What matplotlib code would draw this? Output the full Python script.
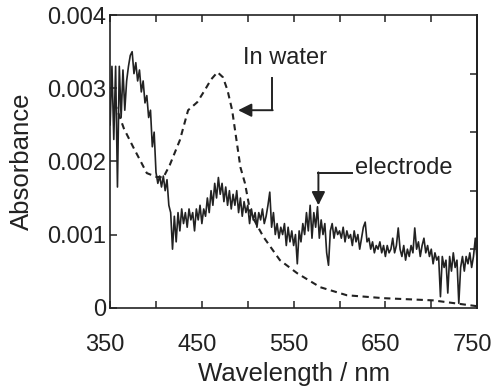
import matplotlib
matplotlib.use("Agg")
import matplotlib.pyplot as plt
import matplotlib.transforms as mtransforms
import numpy as np

plt.rcParams["font.family"] = ["Liberation Sans", "DejaVu Sans"]

# Electrode spectrum, 2 nm steps from 350 to 750 nm (absorbance x 1e-3).
wl_electrode = np.arange(350, 751, 2)
abs_electrode = [
    2.5, 3.3, 2.3, 3.3, 1.65, 3.3, 2.6, 3.25, 2.7, 3.1,        # 350-368
    3.3, 3.45, 3.5, 3.2, 3.35, 3.1, 3.25, 2.95, 3.1, 2.8,      # 370-388
    2.9, 2.6, 2.7, 2.2, 2.4, 1.85, 1.7, 1.8, 1.65, 1.8,        # 390-408
    1.6, 1.75, 1.4, 1.3, 0.8, 1.25, 0.9, 1.3, 1.05, 1.35,      # 410-428
    1.15, 1.3, 1.1, 1.35, 1.2, 1.3, 1.05, 1.35, 1.2, 1.4,      # 430-448
    1.15, 1.35, 1.25, 1.5, 1.3, 1.6, 1.4, 1.7, 1.5, 1.78,      # 450-468
    1.55, 1.7, 1.45, 1.65, 1.4, 1.6, 1.35, 1.55, 1.4, 1.6,     # 470-488
    1.3, 1.5, 1.25, 1.45, 1.3, 1.4, 1.15, 1.35, 1.2, 1.3,      # 490-508
    1.1, 1.3, 1.2, 1.35, 1.15, 1.25, 1.4, 1.58, 1.1, 1.3,      # 510-528
    1.0, 1.15, 0.95, 1.1, 1.0, 1.15, 0.85, 1.1, 0.9, 1.05,     # 530-548
    0.85, 1.0, 0.6, 1.05, 0.9, 1.15, 1.0, 1.3, 1.05, 1.4,      # 550-568
    0.95, 1.3, 1.1, 1.38, 0.95, 1.2, 1.0, 1.15, 0.75, 0.58,    # 570-588
    1.05, 1.15, 0.95, 1.1, 1.0, 1.05, 0.95, 1.1, 0.9, 1.05,    # 590-608
    0.95, 1.0, 0.85, 1.05, 0.9, 1.0, 0.8, 0.95, 1.1, 1.17,     # 610-628
    0.9, 0.95, 0.8, 0.9, 0.75, 0.85, 0.8, 0.9, 0.75, 0.85,     # 630-648
    0.7, 0.85, 0.75, 0.8, 0.95, 0.75, 0.85, 1.09, 0.8, 0.7,    # 650-668
    0.85, 0.65, 0.8, 0.7, 0.85, 0.75, 1.09, 0.8, 0.9, 0.7,     # 670-688
    0.85, 0.95, 0.75, 0.85, 0.7, 0.8, 0.6, 0.75, 0.65, 0.7,    # 690-708
    0.15, 0.7, 0.55, 0.65, 0.2, 0.7, 0.5, 0.75, 0.55, 0.65,    # 710-728
    0.06, 0.55, 0.7, 0.5, 0.7, 0.6, 0.75, 0.55, 0.7, 0.95,     # 730-748
    0.65,                                                      # 750
]

# Spectrum in water (dashed), absorbance x 1e-3.
wl_water = [355, 365, 375, 390, 400, 408, 415, 426, 435, 445, 453, 460,
            467, 473, 478, 483, 492, 497, 503, 517, 535, 554, 579, 608,
            648, 702, 750]
abs_water = [2.8, 2.45, 2.2, 1.84, 1.79, 1.78, 1.95, 2.29, 2.7, 2.81, 2.97,
             3.12, 3.22, 3.15, 2.97, 2.7, 1.92, 1.7, 1.29, 0.97, 0.65, 0.47,
             0.28, 0.17, 0.13, 0.10, 0.02]

INK = "#222222"

fig = plt.figure(figsize=(4.96, 3.88), dpi=100)
ax = fig.add_axes([0.222, 0.207, 0.740, 0.754])

ax.plot(wl_water, np.array(abs_water) * 1e-3, color=INK, lw=1.5,
        dashes=(3, 2.2))
ax.plot(wl_electrode, np.array(abs_electrode) * 1e-3, color=INK, lw=1.2)

ax.set_xlim(350, 750)
ax.set_ylim(0, 0.004)
ax.set_xticks([350, 450, 550, 650, 750])
ax.set_xticks([400, 500, 600, 700], minor=True)
ax.set_yticks([0, 0.001, 0.002, 0.003, 0.004])
ax.set_yticklabels(["0", "0.001", "0.002", "0.003", "0.004"])
ax.tick_params(which="both", direction="in", top=True, right=False,
               length=5, width=1.1, labelsize=17, colors=INK)
ax.tick_params(axis="x", which="major", pad=19)
ax.tick_params(axis="y", pad=3)
for s in ax.spines.values():
    s.set_linewidth(1.2)
    s.set_color(INK)

# the right-hand frame carries its own, finer tick spacing
right = ax.secondary_yaxis("right")
right.set_yticks([0.0008, 0.0016, 0.0024, 0.0032])
right.set_yticklabels([])
right.tick_params(direction="in", length=5, width=1.1, colors=INK)
right.spines["right"].set_linewidth(1.2)

# x tick labels sit slightly left of their ticks in the original
shift = mtransforms.ScaledTranslation(-5 / 100, 0, fig.dpi_scale_trans)
for lbl in ax.get_xticklabels():
    lbl.set_transform(lbl.get_transform() + shift)

ax.set_xlabel("Wavelength / nm", fontsize=18.5, labelpad=4, color=INK)
ax.set_ylabel("Absorbance", fontsize=18.5, labelpad=9, color=INK)

# "In water" label with bent arrow
ax.text(495, 0.00342, "In water", fontsize=17, ha="left", va="center",
        color=INK)
ax.plot([526.6, 526.6], [0.00314, 0.00270], color=INK, lw=1.4)
ax.annotate("", xy=(489.5, 0.00270), xytext=(527.2, 0.00270),
            arrowprops=dict(arrowstyle="-|>", color=INK, lw=1.4,
                            mutation_scale=20, shrinkA=0, shrinkB=0))

# "electrode" label with bent arrow
ax.text(617, 0.00191, "electrode", fontsize=17, ha="left", va="center",
        color=INK)
ax.plot([614, 576.7], [0.00184, 0.00184], color=INK, lw=1.4)
ax.annotate("", xy=(577, 0.00140), xytext=(577, 0.00185),
            arrowprops=dict(arrowstyle="-|>", color=INK, lw=1.4,
                            mutation_scale=20, shrinkA=0, shrinkB=0))

fig.savefig("out.png", dpi=100, facecolor="white")
